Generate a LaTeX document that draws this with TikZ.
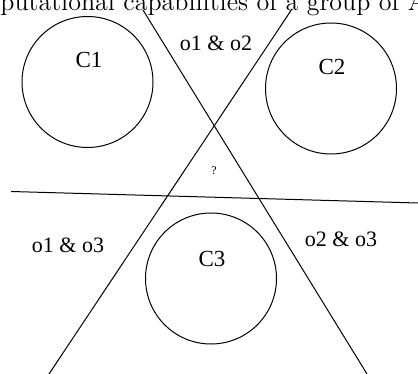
\documentclass[tikz,border=0pt]{standalone}
\usepackage{fontspec}
\newfontfamily\labelfont{Liberation Serif}
\usetikzlibrary{positioning}
\tikzset{
    % agent circles
    agent/.style={
        circle, draw=black, minimum size=65.5pt,
        inner sep=0pt, line width=0.5pt
    },
    % text styles
    agentlabel/.style={font=\labelfont\fontsize{11.5}{14}\selectfont, inner sep=0pt},
    pairlabel/.style={font=\labelfont\fontsize{11}{13}\selectfont, inner sep=0pt},
    unknownlabel/.style={font=\labelfont\fontsize{6}{7}\selectfont, inner sep=0pt},
    % the three cutting lines
    splitline/.style={line width=0.5pt, black},
}
\begin{document}
\begin{tikzpicture}[x=0.5pt,y=-0.5pt]
      \useasboundingbox (0,0) rectangle (418,374);
      \clip (0,0) rectangle (418,374);
      % caption, cut off by the top edge
      \node[anchor=base west, inner sep=0pt, font=\fontsize{13}{15}\selectfont]
           (caption) at (0,11) {putational capabilities of a group of A};
      % agents
      \node[agent] (c1) at (87.5,82)   {};
      \node[agent] (c2) at (331,88.5)  {};
      \node[agent] (c3) at (211,278.5) {};
      \node[agentlabel] (c1lbl) at (89,60)  {C1};
      \node[agentlabel] (c2lbl) at (332,67.5) {C2};
      \node[agentlabel] (c3lbl) at (212,259) {C3};
      % line ends
      \coordinate (l1top) at (143,10);  \coordinate (l1bot) at (367,374);
      \coordinate (l2top) at (292,9);   \coordinate (l2bot) at (49,374);
      \coordinate (l3left) at (11,191.5); \coordinate (l3right) at (418,203);
      \draw[splitline] (l1top) -- (l1bot);
      \draw[splitline] (l2top) -- (l2bot);
      \draw[splitline] (l3left) -- (l3right);
      % regions
      \node[pairlabel] (o12) at (216,43.5)  {o1 \& o2};
      \node[pairlabel] (o13) at (68,245.5)  {o1 \& o3};
      \node[pairlabel] (o23) at (341,239)   {o2 \& o3};
      \node[unknownlabel] (unk) at (214,171) {?};
\end{tikzpicture}
\end{document}
